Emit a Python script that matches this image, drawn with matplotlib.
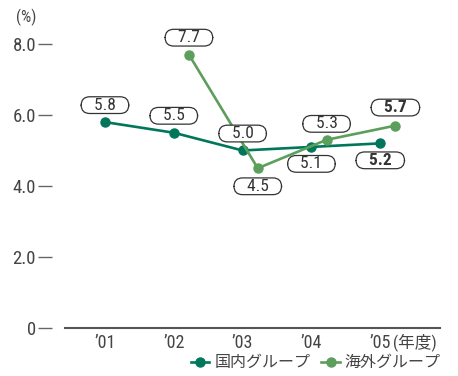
import numpy as np
import matplotlib.pyplot as plt

plt.rcParams['font.family'] = ['Roboto Condensed', 'Liberation Sans', 'Noto Sans CJK JP']

years = ["’01", "’02", "’03", "’04", "’05"]
domestic = [5.8, 5.5, 5.0, 5.1, 5.2]
overseas = [np.nan, 7.7, 4.5, 5.3, 5.7]
yticks = [0, 2.0, 4.0, 6.0, 8.0]
ytick_labels = ['0', '2.0', '4.0', '6.0', '8.0']

c_dom = '#00775a'
c_ovs = '#5c9e5c'
txt = '#444444'

fig = plt.figure(figsize=(4.58, 3.76), dpi=100)
ax = fig.add_axes([0.142, 0.1277, 0.819, 0.812])

x = np.arange(len(years))
xo = x + 0.22

ax.plot(x, domestic, color=c_dom, lw=1.9, marker='o', ms=6.5, label='国内グループ')
ax.plot(xo, overseas, color=c_ovs, lw=1.9, marker='o', ms=6.5, label='海外グループ')

# label offsets in points (dy)
dom_dy = [12.2, 12.2, 12.2, -12.2, -12.2]
ovs_dy = [0, 12.2, -13, 11.5, 13]
box = dict(boxstyle='round,pad=0.05,rounding_size=0.5', fc='white', ec='#333333', lw=0.9)

for i, v in enumerate(domestic):
    ax.annotate(f'   {v:.1f}   ', (x[i], v), xytext=(0, dom_dy[i]), textcoords='offset points',
                ha='center', va='center', fontsize=12.5, color='#333333', bbox=box,
                fontweight='bold' if i == 4 else 'normal')
for i, v in enumerate(overseas):
    if np.isnan(v):
        continue
    ax.annotate(f'   {v:.1f}   ', (xo[i], v), xytext=(0, ovs_dy[i]), textcoords='offset points',
                ha='center', va='center', fontsize=12.5, color='#333333', bbox=box,
                fontweight='bold' if i == 4 else 'normal')

ax.set_xlim(-0.58, 4.87)
ax.set_ylim(0, 8.6)
ax.set_xticks(x)
ax.set_xticklabels(years)
ax.tick_params(axis='x', length=0, pad=4, labelsize=13, labelcolor=txt)
ax.set_yticks(yticks)
ax.set_yticklabels(ytick_labels)
ax.tick_params(axis='y', length=10, width=1, color='#666666', pad=1.5,
               labelsize=13.5, labelcolor=txt)

for s in ['top', 'right']:
    ax.spines[s].set_visible(False)
ax.spines['left'].set_position(('outward', 9.4))
ax.spines['left'].set_visible(False)
ax.spines['bottom'].set_color('#555555')
ax.spines['bottom'].set_linewidth(1.5)

fig.text(26 / 458, 1 - 17 / 376, '(%)', fontsize=11.5, color=txt, ha='center', va='center')
fig.text(393 / 458, 1 - 342 / 376, '(年度)', fontsize=12, color=txt, ha='left', va='center')

leg = fig.legend(loc='center right', bbox_to_anchor=(0.962, 0.035), ncol=2, frameon=False,
                 fontsize=11.5, handlelength=1.15, columnspacing=0.7, handletextpad=0.3,
                 borderpad=0, borderaxespad=0)
for t in leg.get_texts():
    t.set_color(txt)

fig.savefig('out.png', dpi=100)
